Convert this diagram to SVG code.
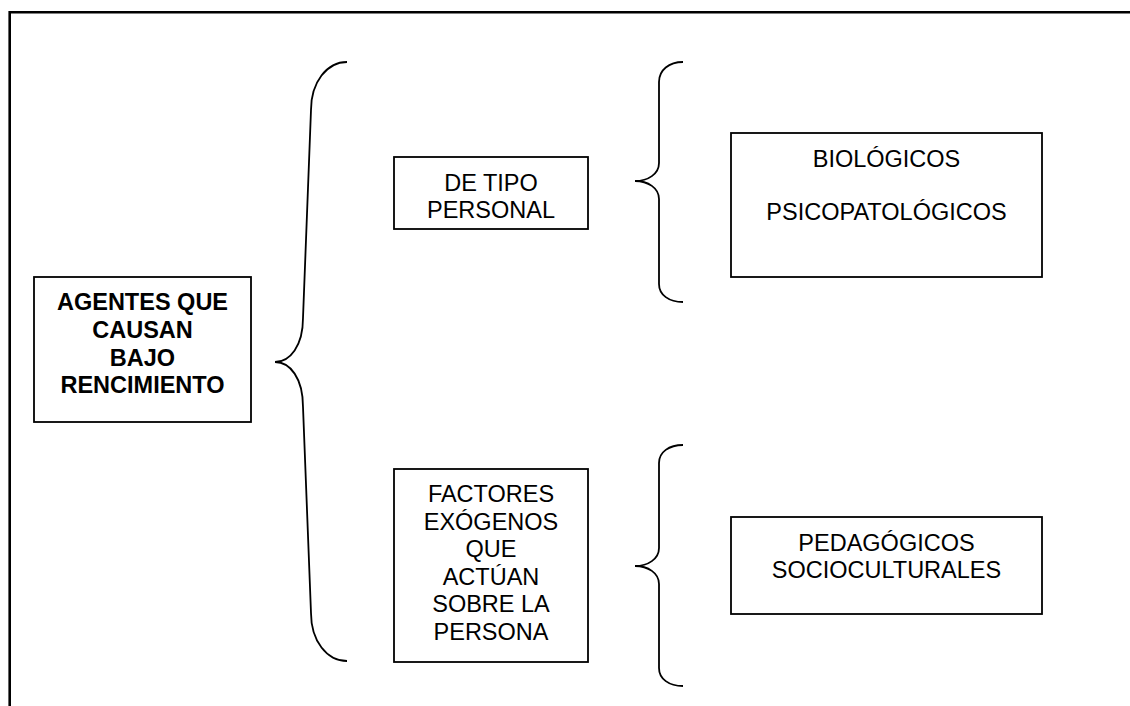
<svg xmlns="http://www.w3.org/2000/svg" width="1130" height="706" viewBox="0 0 1130 706">
<style>
.frame{fill:none;stroke:#000;stroke-width:2.6}
.box{fill:#fff;stroke:#000;stroke-width:1.8}
.brace{fill:none;stroke:#000;stroke-width:1.8}
text{font-family:"Liberation Sans",Arial,sans-serif;font-size:23.5px;text-anchor:middle;fill:#000}
.b{font-weight:bold}
</style>
<rect width="1130" height="706" fill="#fff"/>
<path class="frame" d="M9.7,706 V12.3 H1130"/>
<g id="connectors">
<path class="brace" d="M347,62 C327,62 311,82 311,110 L303,318 C303,346 290,362 275,362 C290,362 303,378 303,407 L311,613 C311,641 327,661 347,661"/>
<path class="brace" d="M683,62 C669,62 659,70 659,82 L659,163 C659,174 648,181 635,181 C648,181 659,188 659,199 L659,284 C659,295 669,302 683,302"/>
<path class="brace" d="M683,445 C669,445 659,452 659,463 L659,548 C659,559 648,566 635,566 C648,566 659,573 659,584 L659,668 C659,679 669,686 683,686"/>
</g>
<g id="agentes">
<rect class="box" x="34" y="277" width="217" height="145"/>
<text class="b" x="142.5" y="310">AGENTES QUE</text>
<text class="b" x="142.5" y="338">CAUSAN</text>
<text class="b" x="142.5" y="366">BAJO</text>
<text class="b" x="142.5" y="393">RENCIMIENTO</text>
</g>
<g id="personal">
<rect class="box" x="394" y="157" width="194" height="72"/>
<text x="491" y="191">DE TIPO</text>
<text x="491" y="218">PERSONAL</text>
</g>
<g id="biologicos">
<rect class="box" x="731" y="133" width="311" height="144"/>
<text x="886.5" y="167">BIOLÓGICOS</text>
<text x="886.5" y="220">PSICOPATOLÓGICOS</text>
</g>
<g id="factores">
<rect class="box" x="394" y="469" width="194" height="193"/>
<text x="491" y="502">FACTORES</text>
<text x="491" y="529.6">EXÓGENOS</text>
<text x="491" y="557.2">QUE</text>
<text x="491" y="584.8">ACTÚAN</text>
<text x="491" y="612.4">SOBRE LA</text>
<text x="491" y="640">PERSONA</text>
</g>
<g id="pedagogicos">
<rect class="box" x="731" y="517" width="311" height="97"/>
<text x="886.5" y="551">PEDAGÓGICOS</text>
<text x="886.5" y="578">SOCIOCULTURALES</text>
</g>
</svg>
